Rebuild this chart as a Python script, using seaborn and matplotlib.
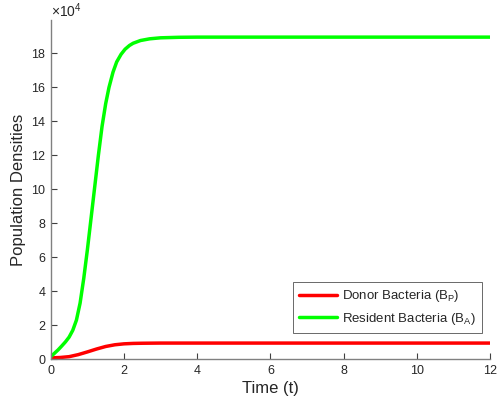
import matplotlib
matplotlib.use("Agg")
import matplotlib.pyplot as plt
import seaborn as sns
import pandas as pd

# Time points and population densities (in units of 1e4)
t_resident = [0, 0.1, 0.2, 0.3, 0.4, 0.5, 0.6, 0.7, 0.8, 0.9, 1.0, 1.1,
              1.2, 1.3, 1.4, 1.5, 1.59, 1.70, 1.80, 1.92, 2.03, 2.15, 2.25,
              2.45, 2.7, 3.0, 3.5, 4, 6, 8, 10, 12]
resident = [0.15, 0.35, 0.55, 0.78, 1.02, 1.3, 1.7, 2.3, 3.3, 4.75, 6.45, 8.3,
            10.15, 12.0, 13.7, 15.05, 16.0, 16.9, 17.5, 17.95, 18.25, 18.47,
            18.6, 18.76, 18.86, 18.92, 18.95, 18.96, 18.96, 18.96, 18.96, 18.96]

t_donor = [0, 0.25, 0.5, 0.75, 1.0, 1.25, 1.5, 1.75, 2.0, 2.25, 2.5, 3.0,
           4, 6, 8, 10, 12]
donor = [0.08, 0.1, 0.15, 0.27, 0.43, 0.6, 0.75, 0.85, 0.905, 0.93, 0.94, 0.95,
         0.95, 0.95, 0.95, 0.95, 0.95]

labels = [r"Donor Bacteria (B$_\mathregular{P}$)",
          r"Resident Bacteria (B$_\mathregular{A}$)"]
colors = ["#ff0000", "#00ff00"]

x_ticks = [0, 2, 4, 6, 8, 10, 12]
y_ticks = [0, 2, 4, 6, 8, 10, 12, 14, 16, 18]

df = pd.concat([
    pd.DataFrame({"t": t_donor, "v": donor, "series": labels[0]}),
    pd.DataFrame({"t": t_resident, "v": resident, "series": labels[1]}),
])

sns.set_style("white")
plt.rcParams["font.family"] = ["Liberation Sans", "DejaVu Sans"]
plt.rcParams["mathtext.fontset"] = "custom"
plt.rcParams["mathtext.rm"] = "Liberation Sans"

fig = plt.figure(figsize=(4.98, 4.11), dpi=100)
ax = fig.add_axes([0.102, 0.126, 0.882, 0.825])

sns.lineplot(data=df, x="t", y="v", hue="series", palette=colors,
             linewidth=2.5, ax=ax, sort=True, estimator=None)

ax.set_xlim(0, 12)
ax.set_ylim(0, 19.96)
ax.set_xticks(x_ticks)
ax.set_yticks(y_ticks)
ax.set_xticklabels([str(v) for v in x_ticks])
ax.set_yticklabels([str(v) for v in y_ticks])

axis_col = "#262626"
for side in ["top", "right"]:
    ax.spines[side].set_visible(False)
for side in ["left", "bottom"]:
    ax.spines[side].set_color("#808080")
    ax.spines[side].set_linewidth(1.0)
ax.tick_params(bottom=True, left=True, direction="in", length=4, width=0.8,
               color="#404040", labelsize=9, labelcolor=axis_col, pad=4)

ax.set_xlabel("Time (t)", fontsize=12, color=axis_col, labelpad=3)
ax.set_ylabel("Population Densities", fontsize=12, color=axis_col, labelpad=4)

ax.text(0.0, 1.0, r"$\times\mathregular{10^{4}}$", transform=ax.transAxes,
        ha="left", va="bottom", fontsize=10, color=axis_col)

leg = ax.legend(loc="lower right", bbox_to_anchor=(0.982, 0.0775), fontsize=9.5,
                frameon=True, fancybox=False, handlelength=2.9,
                borderpad=0.45, labelspacing=0.5, handletextpad=0.4,
                borderaxespad=0)
leg.get_frame().set_edgecolor("#262626")
leg.get_frame().set_linewidth(0.6)
for txt in leg.get_texts():
    txt.set_color(axis_col)

fig.savefig("out.png", dpi=100)
